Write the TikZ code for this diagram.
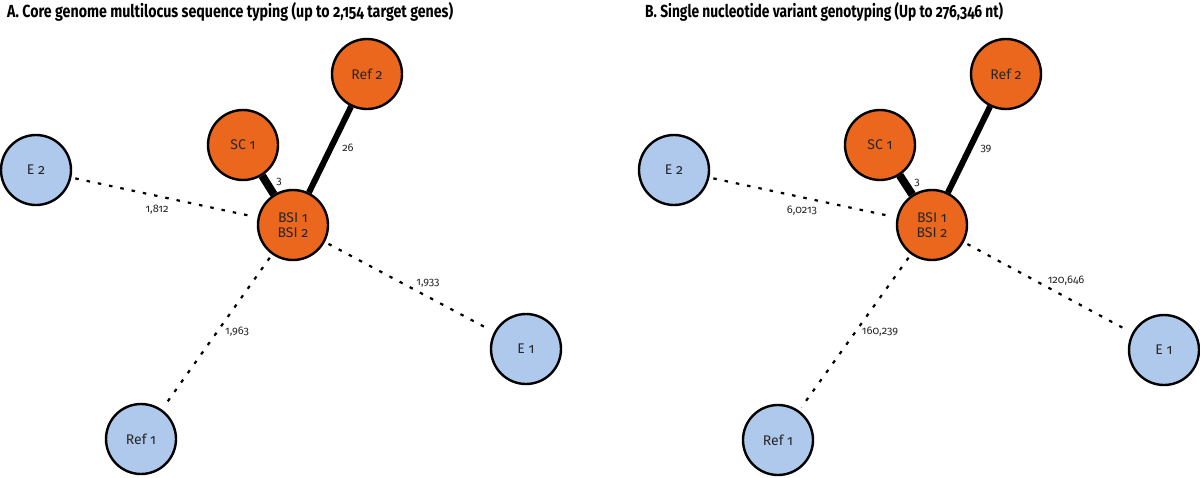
\documentclass[tikz,border=0pt]{standalone}
\usepackage{fontspec}
\setmainfont{Fira Sans}[Numbers=OldStyle]
\usepackage{graphicx}
\definecolor{orangefill}{RGB}{234,103,29}
\definecolor{bluefill}{RGB}{174,201,236}
\begin{document}
\begin{tikzpicture}[x=1pt,y=-1pt,
  sample/.style={circle,draw=black,line width=2.4pt,minimum size=70pt,inner sep=0pt,font=\fontsize{14}{15}\selectfont,align=center,text=black!85},
  hosp/.style={sample,fill=orangefill},
  env/.style={sample,fill=bluefill},
  close/.style={line width=8pt},
  mid/.style={line width=6pt},
  far/.style={line width=2.2pt,dash pattern=on 3.5pt off 8pt,shorten <=4pt,shorten >=4pt},
  dist/.style={font=\fontsize{11}{12}\selectfont,inner sep=0pt,text=black!85},
  title/.style={anchor=base west,inner sep=0pt}]
\useasboundingbox (0,0) rectangle (1200,477);
% titles
\node[title] (ta) at (7,17) {\resizebox{446pt}{\height}{\fontsize{17.5}{20}\selectfont\bfseries A. Core genome multilocus sequence typing (up to 2,154 target genes)}};
\node[title] (tb) at (645,17) {\resizebox{358pt}{\height}{\fontsize{17.5}{20}\selectfont\bfseries B. Single nucleotide variant genotyping (Up to 276,346 nt)}};
% panel A
\node[env] (aE2) at (36,170) {E 2};
\node[hosp] (aSC) at (243,145) {SC 1};
\node[hosp] (aBSI) at (293,225) {BSI 1\\BSI 2};
\node[hosp] (aRef2) at (367,74) {Ref 2};
\node[env] (aE1) at (526,349) {E 1};
\node[env] (aRef1) at (141,439) {Ref 1};
\draw[close] (aSC) -- (aBSI);
\draw[mid] (aBSI) -- (aRef2);
\draw[far] (aE2) -- (aBSI);
\draw[far] (aBSI) -- (aE1);
\draw[far] (aBSI) -- (aRef1);
\node[dist] (la1) at (279,182) {3};
\node[dist] (la2) at (348,148) {26};
\node[dist] (la3) at (157,210) {1,812};
\node[dist] (la4) at (428,283) {1,933};
\node[dist] (la5) at (237,332) {1,963};
% panel B
\node[env] (bE2) at (674,170) {E 2};
\node[hosp] (bSC) at (880,145) {SC 1};
\node[hosp] (bBSI) at (932,225) {BSI 1\\BSI 2};
\node[hosp] (bRef2) at (1006,74) {Ref 2};
\node[env] (bE1) at (1164,350) {E 1};
\node[env] (bRef1) at (778,440) {Ref 1};
\draw[close] (bSC) -- (bBSI);
\draw[mid] (bBSI) -- (bRef2);
\draw[far] (bE2) -- (bBSI);
\draw[far] (bBSI) -- (bE1);
\draw[far] (bBSI) -- (bRef1);
\node[dist] (lb1) at (917,183) {3};
\node[dist] (lb2) at (986,149) {39};
\node[dist] (lb3) at (802,211) {6,0213};
\node[dist] (lb4) at (1066,281) {120,646};
\node[dist] (lb5) at (880,332) {160,239};
\end{tikzpicture}
\end{document}
